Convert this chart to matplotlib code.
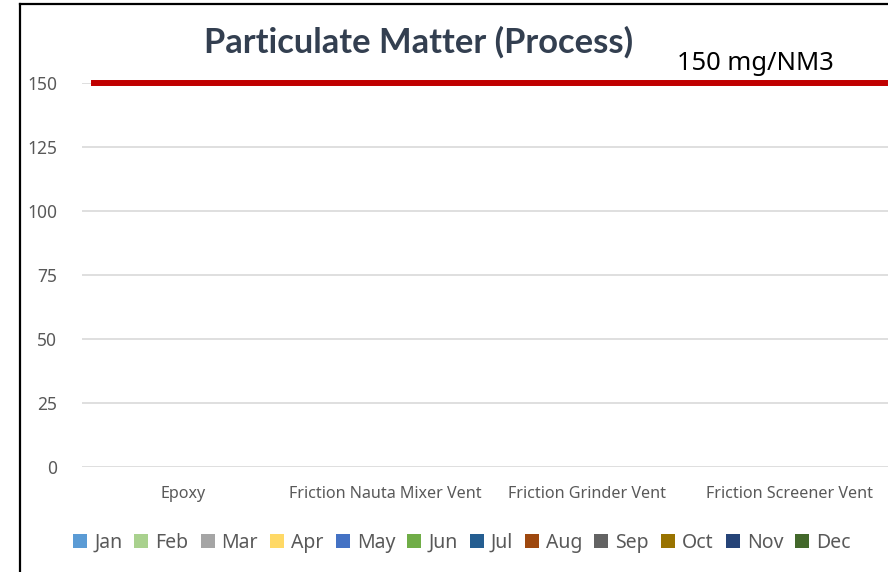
import numpy as np
import matplotlib
matplotlib.use("Agg")
import matplotlib.pyplot as plt
from matplotlib.lines import Line2D

plt.rcParams['font.family'] = ['Noto Sans', 'DejaVu Sans']

categories = ["Epoxy", "Friction Nauta Mixer Vent", "Friction Grinder Vent", "Friction Screener Vent"]
months = ["Jan", "Feb", "Mar", "Apr", "May", "Jun", "Jul", "Aug", "Sep", "Oct", "Nov", "Dec"]
month_colors = ["#5B9BD5", "#A9D18E", "#A5A5A5", "#FFD966", "#4472C4", "#70AD47",
                "#255E91", "#9E480E", "#636363", "#997300", "#264478", "#43682B"]
# No measured values are shown in the chart (all months empty)
values = {m: [np.nan, np.nan, np.nan, np.nan] for m in months}
limit_value = 150
limit_label = "150 mg/NM3"
yticks = [0, 25, 50, 75, 100, 125, 150]

W, H = 888, 572
fig = plt.figure(figsize=(W / 100, H / 100), dpi=100)
ax = fig.add_axes([82 / W, (H - 467) / H, 808 / W, 384 / H])

x = np.arange(len(categories))
n = len(months)
bw = 0.8 / n
for i, m in enumerate(months):
    ax.bar(x - 0.4 + bw * (i + 0.5), values[m], bw, color=month_colors[i], label=m)

ax.set_xlim(-0.5, len(categories) - 0.5)
ax.set_ylim(0, 150)
ax.set_yticks(yticks)
ax.set_yticklabels([str(v) for v in yticks])
ax.set_xticks(x)
ax.set_xticklabels(categories)
ax.tick_params(axis='y', length=0, pad=18, labelsize=12.5, labelcolor='#595959')
ax.tick_params(axis='x', length=0, pad=14, labelsize=11.6, labelcolor='#595959')
for s in ax.spines.values():
    s.set_visible(False)
ax.grid(axis='y', color='#D9D9D9', linewidth=1.2)
ax.set_axisbelow(True)

ax.axhline(limit_value, xmin=12 / 808, xmax=803 / 808, color='#C00000', linewidth=4.3,
           clip_on=False, zorder=5)
fig.text(755 / W, (H - 63) / H, limit_label, ha='center', va='center', fontsize=18.4, color='black')

fig.text(419 / W, (H - 42) / H, "Particulate Matter (Process)", ha='center', va='center',
         fontsize=24.8, fontweight='bold', color='#333F50', family=['Lato', 'DejaVu Sans'])

handles, labels = ax.get_legend_handles_labels()
fig.legend(handles, labels, loc='center', bbox_to_anchor=(462 / W, (H - 543) / H), ncol=12,
           frameon=False, fontsize=14, handlelength=0.72, handleheight=0.72, handletextpad=0.36,
           columnspacing=0.62, labelcolor='#595959')

# chart border (left and top visible)
fig.add_artist(Line2D([19.5 / W, 19.5 / W], [0, (H - 3.5) / H], color='black', linewidth=1.6,
                      transform=fig.transFigure))
fig.add_artist(Line2D([19.5 / W, 1], [(H - 3.5) / H, (H - 3.5) / H], color='black', linewidth=1.6,
                      transform=fig.transFigure))

fig.savefig("out.png", dpi=100)
